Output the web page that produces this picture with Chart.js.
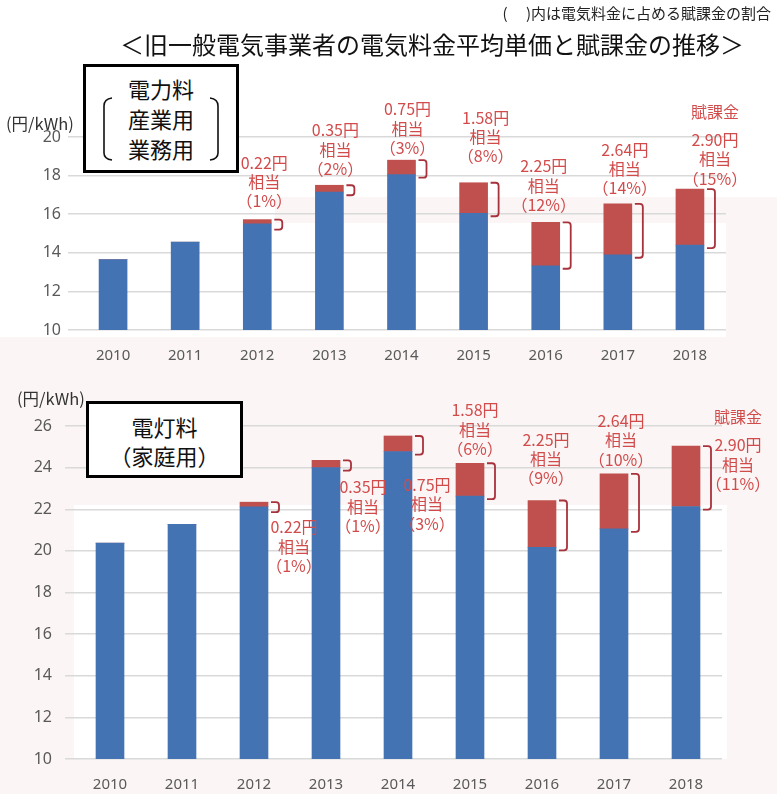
<!DOCTYPE html>
<html>
<head>
<meta charset="utf-8">
<script src="https://cdn.jsdelivr.net/npm/chart.js@4.4.0/dist/chart.umd.min.js"></script>
<style>
  body { margin: 0; width: 777px; height: 794px; position: relative; overflow: hidden; background: #fff; font-family: "Noto Sans CJK JP", sans-serif; }
  .abs { position: absolute; }
  .bg-pink { background: #fbf5f5; }
  .note { right: 6px; top: 2px; font-size: 15px; color: #222; white-space: nowrap; }
  .title { left: 0; width: 864px; top: 26px; text-align: center; font-size: 24px; color: #111; white-space: nowrap; }
  .unit { font-size: 16.5px; color: #333; white-space: nowrap; }
  .box { border: 3px solid #000; background: #fff; box-sizing: border-box; text-align: center; color: #111; font-size: 22px; }
  canvas { position: absolute; left: 0; }
</style>
</head>
<body>
<div class="abs bg-pink" style="left:0;top:337px;width:777px;height:457px"></div>
<div class="abs" style="left:74px;top:505px;width:653px;height:254px;background:#fff"></div>
<div class="abs bg-pink" style="left:275px;top:197px;width:502px;height:26px"></div>
<div class="abs bg-pink" style="left:726px;top:197px;width:51px;height:140px"></div>

<canvas id="industry" width="777" height="372" style="top:0"></canvas>
<canvas id="home" width="777" height="422" style="top:372px"></canvas>

<div class="abs note">(　 )内は電気料金に占める賦課金の割合</div>
<div class="abs title">＜旧一般電気事業者の電気料金平均単価と賦課金の推移＞</div>
<div class="abs unit" style="left:6px;top:111px">(円/kWh)</div>
<div class="abs unit" style="left:17px;top:386px">(円/kWh)</div>

<div class="abs box" style="left:83px;top:64px;width:156px;height:109px;line-height:30px;padding-top:6px">電力料<br>産業用<br>業務用</div>
<svg class="abs" style="left:83px;top:64px" width="156" height="109">
  <path d="M29 34 Q21 35 21 42 L21 89 Q21 95 29 96" fill="none" stroke="#111" stroke-width="1.6"/>
  <path d="M127 34 Q135 35 135 42 L135 89 Q135 95 127 96" fill="none" stroke="#111" stroke-width="1.6"/>
</svg>
<div class="abs box" style="left:86px;top:401px;width:157px;height:77px;line-height:29px;padding-top:8px">電灯料<br>（家庭用）</div>

<script>
const years = ['2010', '2011', '2012', '2013', '2014', '2015', '2016', '2017', '2018'];
const levy = [0, 0, 0.22, 0.35, 0.75, 1.58, 2.25, 2.64, 2.90];

const industryBase = [13.65, 14.55, 15.50, 17.15, 18.05, 16.05, 13.33, 13.90, 14.40];
const industryShare = [null, null, '1%', '2%', '3%', '8%', '12%', '14%', '15%'];
const industryTicks = [10, 12, 14, 16, 18, 20];

const homeBase = [20.37, 21.27, 22.12, 24.00, 24.77, 22.63, 20.17, 21.06, 22.13];
const homeShare = [null, null, '1%', '1%', '3%', '6%', '9%', '10%', '11%'];
const homeTicks = [10, 12, 14, 16, 18, 20, 22, 24, 26];

// label placement: first line centre relative to bar centre / top of red part (px)
const industryLabelPos = [null, null, [7, -57], [6, -55], [6, -51], [12, -65], [-2, -56], [7, -54], [25, -49]];
const homeLabelPos = [null, null, [40, 25], [37, 27], [29, 49], [5, -53], [4, -61], [7, -53], [52, -1]];

const BLUE = '#4473b4';
const RED = '#c0504d';
const LABEL_RED = '#d24b4b';
const BRACKET = '#a8323c';

function levyPlugin(share, labelPos) {
    return {
        id: 'levyNotes',
        afterDatasetsDraw(chart) {
            const ctx = chart.ctx;
            const meta = chart.getDatasetMeta(1);
            ctx.save();
            meta.data.forEach((bar, i) => {
                if (!levy[i]) return;
                const right = bar.x + bar.width / 2;
                const top = bar.y;
                const bottom = Math.max(bar.base + 3, top + 10);

                // bracket
                const x0 = right + 3, x1 = right + 11, r = 3;
                ctx.strokeStyle = BRACKET;
                ctx.lineWidth = 1.8;
                ctx.beginPath();
                ctx.moveTo(x0, top);
                ctx.lineTo(x1 - r, top);
                ctx.quadraticCurveTo(x1, top, x1, top + r);
                ctx.lineTo(x1, bottom - r);
                ctx.quadraticCurveTo(x1, bottom, x1 - r, bottom);
                ctx.lineTo(x0, bottom);
                ctx.stroke();

                // text
                const [dx, dy] = labelPos[i];
                const cx = bar.x + dx;
                const cy = top + dy;
                ctx.fillStyle = LABEL_RED;
                ctx.font = '16px "Noto Sans CJK JP"';
                ctx.textAlign = 'center';
                ctx.textBaseline = 'middle';
                const lines = [levy[i].toFixed(2) + '円', '相当', '（' + share[i] + '）'];
                lines.forEach((t, k) => ctx.fillText(t, cx, cy + k * 19.3));
                if (i === levy.length - 1) ctx.fillText('賦課金', cx, cy - 28);
            });
            ctx.restore();
        }
    };
}

function makeChart(id, base, share, ticks, labelPos, axisWidth, tickPad, pad) {
    return new Chart(document.getElementById(id), {
        type: 'bar',
        data: {
            labels: years,
            datasets: [
                { data: base, backgroundColor: BLUE, barThickness: 28 },
                { data: levy, backgroundColor: RED, barThickness: 28 }
            ]
        },
        options: {
            responsive: false,
            animation: false,
            layout: { padding: pad },
            plugins: { legend: { display: false }, tooltip: { enabled: false } },
            scales: {
                x: {
                    stacked: true,
                    grid: { display: false },
                    border: { display: false },
                    ticks: { color: '#595959', font: { size: 15, family: 'Noto Sans' }, padding: 9 },
                    afterFit: s => { s.height = 35; }
                },
                y: {
                    stacked: true,
                    min: ticks[0],
                    max: ticks[ticks.length - 1],
                    afterBuildTicks: s => { s.ticks = ticks.map(v => ({ value: v })); },
                    grid: { color: '#d9d9d9', lineWidth: 1.5, drawTicks: true, tickLength: 9 },
                    border: { display: false },
                    ticks: { color: '#595959', font: { size: 16, family: 'Noto Sans' }, padding: tickPad },
                    afterFit: s => { s.width = axisWidth; }
                }
            }
        },
        plugins: [levyPlugin(share, labelPos)]
    });
}

makeChart('industry', industryBase, industryShare, industryTicks, industryLabelPos, 77, 7, { top: 137, right: 51, bottom: 7, left: 0 });
makeChart('home', homeBase, homeShare, homeTicks, homeLabelPos, 74, 13, { top: 54, right: 55, bottom: 0, left: 0 });
</script>
</body>
</html>
